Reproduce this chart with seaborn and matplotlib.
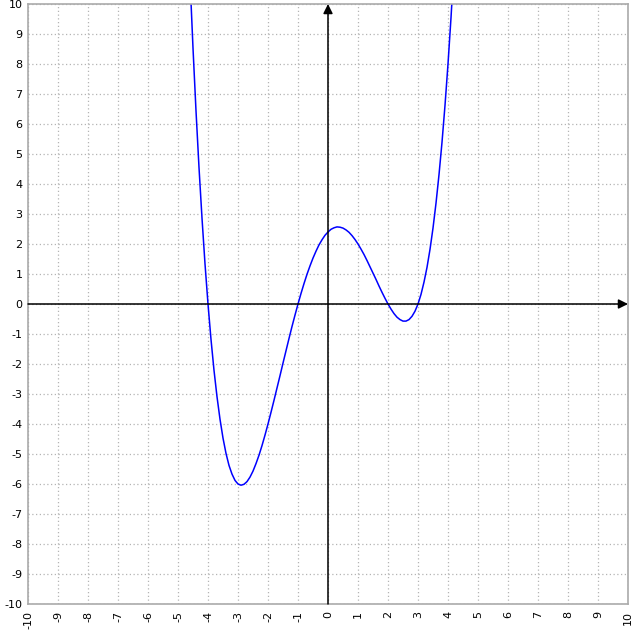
import numpy as np
import pandas as pd
import matplotlib
matplotlib.use("Agg")
import matplotlib.pyplot as plt
import seaborn as sns

# puntos (x, y)
curve_x = [-4.6, -4.5, -4.4, -4.3, -4.2, -4.1, -4.0, -3.9, -3.8, -3.7,
           -3.6, -3.5, -3.4, -3.3, -3.2, -3.1, -3.0, -2.9, -2.8, -2.7,
           -2.6, -2.5, -2.4, -2.3, -2.2, -2.1, -2.0, -1.9, -1.8, -1.7,
           -1.6, -1.5, -1.4, -1.3, -1.2, -1.1, -1.0, -0.9, -0.8, -0.7,
           -0.6, -0.5, -0.4, -0.3, -0.2, -0.1, 0.0, 0.1, 0.2, 0.3,
           0.4, 0.5, 0.6, 0.7, 0.8, 0.9, 1.0, 1.1, 1.2, 1.3,
           1.4, 1.5, 1.6, 1.7, 1.8, 1.9, 2.0, 2.1, 2.2, 2.3,
           2.4, 2.5, 2.6, 2.7, 2.8, 2.9, 3.0, 3.1, 3.2, 3.3,
           3.4, 3.5, 3.6, 3.7, 3.8, 3.9, 4.0, 4.1, 4.2]
curve_y = [10.84, 8.53, 6.44, 4.55, 2.86, 1.34, 0.00, -1.18, -2.21, -3.09,
           -3.84, -4.47, -4.98, -5.38, -5.67, -5.88, -6.00, -6.04, -6.01, -5.92,
           -5.77, -5.57, -5.32, -5.04, -4.72, -4.37, -4.00, -3.61, -3.21, -2.80,
           -2.39, -1.97, -1.56, -1.15, -0.75, -0.37, 0.00, 0.35, 0.68, 0.99,
           1.27, 1.53, 1.76, 1.97, 2.14, 2.29, 2.40, 2.49, 2.54, 2.57,
           2.56, 2.53, 2.47, 2.39, 2.28, 2.15, 2.00, 1.83, 1.65, 1.45,
           1.24, 1.03, 0.82, 0.60, 0.39, 0.19, 0.00, -0.17, -0.32, -0.44,
           -0.52, -0.57, -0.57, -0.52, -0.41, -0.24, 0.00, 0.32, 0.73, 1.22,
           1.82, 2.53, 3.36, 4.31, 5.39, 6.62, 8.00, 9.54, 11.26]

ticks = [-10, -9, -8, -7, -6, -5, -4, -3, -2, -1, 0, 1, 2, 3, 4, 5, 6, 7, 8, 9, 10]
tick_labels = ["-10", "-9", "-8", "-7", "-6", "-5", "-4", "-3", "-2", "-1", "0",
               "1", "2", "3", "4", "5", "6", "7", "8", "9", "10"]

sns.set_style("white")
plt.rcParams["font.family"] = ["DejaVu Sans"]
plt.rcParams["axes.unicode_minus"] = False

fig = plt.figure(figsize=(6.33, 6.33), dpi=100)
ax = fig.add_axes([28 / 633, 29 / 633, 600 / 633, 600 / 633])

df = pd.DataFrame({"x": curve_x, "y": curve_y})

# rejilla punteada
ax.set_xticks(ticks)
ax.set_yticks(ticks)
ax.grid(True, color="#b4b4b4", linestyle=(0, (1, 2)), linewidth=0.9)
ax.set_axisbelow(True)

# ejes con flechas
ax.annotate("", xy=(0, 10), xytext=(0, -10),
            arrowprops=dict(arrowstyle="-|>", color="black", lw=1.1,
                            mutation_scale=14, shrinkA=0, shrinkB=0))
ax.annotate("", xy=(10, 0), xytext=(-10, 0),
            arrowprops=dict(arrowstyle="-|>", color="black", lw=1.1,
                            mutation_scale=14, shrinkA=0, shrinkB=0))

sns.lineplot(data=df, x="x", y="y", ax=ax, color="#0000ff", linewidth=1.1,
             sort=False, estimator=None)

ax.set_xlim(-10, 10)
ax.set_ylim(-10, 10)
ax.set_xticklabels(tick_labels, rotation=90, fontsize=8)
ax.set_yticklabels(tick_labels, fontsize=8)
ax.tick_params(axis="both", length=0, colors="black")
ax.tick_params(axis="x", pad=5)
ax.tick_params(axis="y", pad=4)
ax.set_xlabel("")
ax.set_ylabel("")
for s in ax.spines.values():
    s.set_color("#aaaaaa")
    s.set_linewidth(1.2)

fig.savefig("out.png", dpi=100)
